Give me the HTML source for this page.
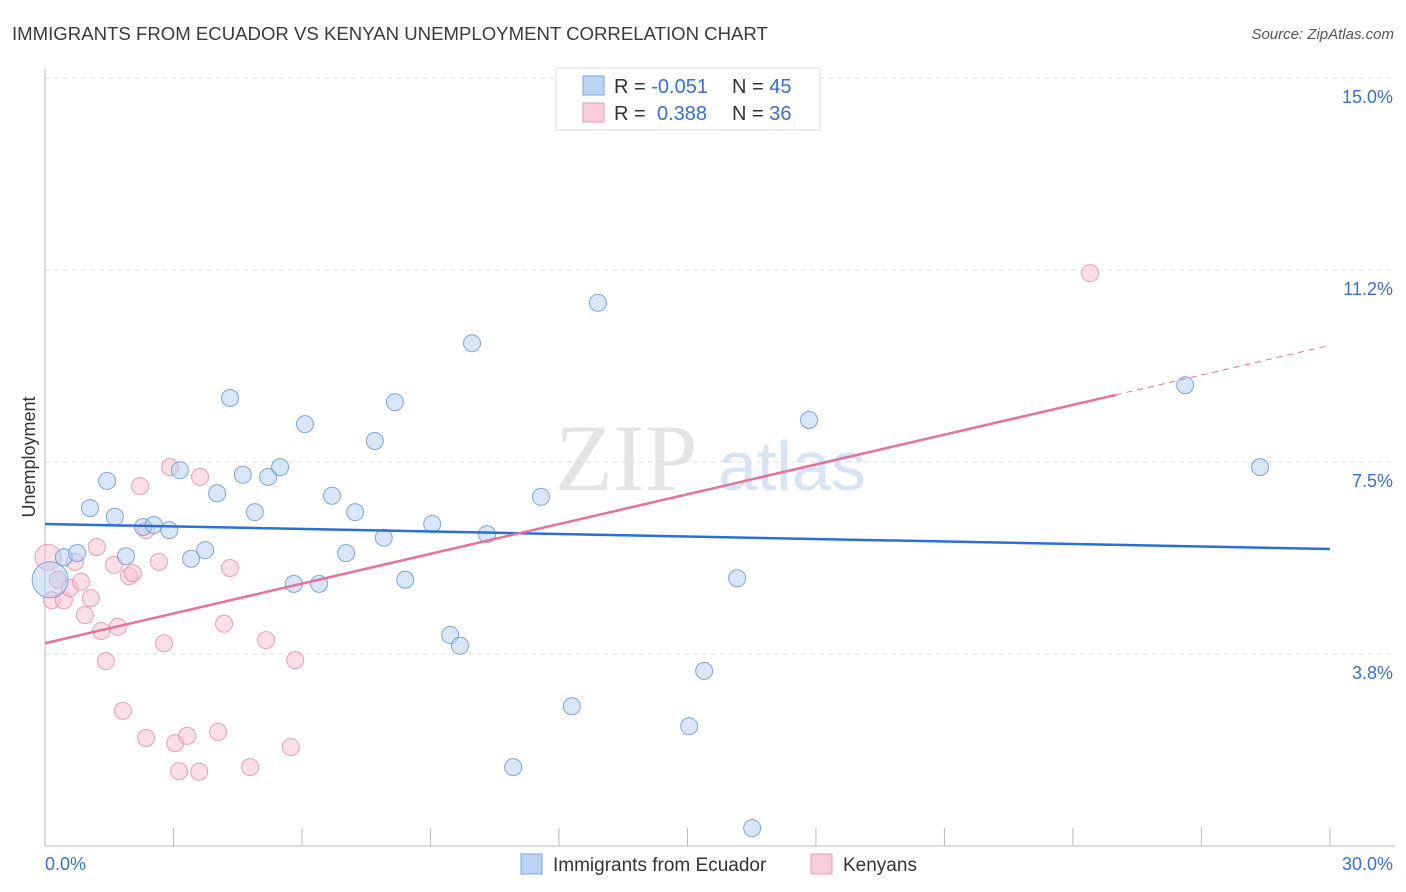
<!DOCTYPE html>
<html><head><meta charset="utf-8"><style>
body{margin:0;background:#fff;font-family:"Liberation Sans",sans-serif}
#c{position:absolute;left:0;top:0}
</style></head><body>
<svg id="c" width="1406" height="892" xmlns="http://www.w3.org/2000/svg">
<text x="12" y="40" font-size="18.6" fill="#3a3a3a">IMMIGRANTS FROM ECUADOR VS KENYAN UNEMPLOYMENT CORRELATION CHART</text>
<text x="1394" y="39" font-size="15" fill="#555" font-style="italic" text-anchor="end">Source: ZipAtlas.com</text>
<text x="35" y="457" font-size="18" fill="#333" text-anchor="middle" transform="rotate(-90 35 457)">Unemployment</text>
<g><text x="555" y="490" font-size="95" fill="#e4e4e4" font-family="Liberation Serif,serif">ZIP</text><text x="718" y="490" font-size="70" fill="#d6e4f5">atlas</text></g>
<g id="grid"></g><g id="axes"></g><g id="pts"></g><g id="lines"></g>
<g>
<rect x="556" y="68" width="264" height="62" fill="#fff" stroke="#ddd"/>
<rect x="583" y="76" width="21" height="19" fill="#bcd4f4" stroke="#7aa5e0"/>
<rect x="583" y="103" width="21" height="19" fill="#f9ccd9" stroke="#ec9ab5"/>
<text x="614" y="93" font-size="20" fill="#333">R = <tspan fill="#3670d0">-0.051</tspan><tspan x="732">N = </tspan><tspan fill="#3670d0">45</tspan></text>
<text x="614" y="120" font-size="20" fill="#333">R = <tspan x="657" fill="#3670d0">0.388</tspan><tspan x="732">N = </tspan><tspan fill="#3670d0">36</tspan></text>
</g>
<g>
<rect x="521" y="854" width="21" height="20" fill="#bcd4f4" stroke="#7aa5e0"/>
<text x="553" y="871" font-size="19" fill="#333">Immigrants from Ecuador</text>
<rect x="811" y="854" width="21" height="20" fill="#f9ccd9" stroke="#ec9ab5"/>
<text x="843" y="871" font-size="19" fill="#333">Kenyans</text>
</g>
</svg>
<script>
const ns="http://www.w3.org/2000/svg";
const yTicks=[15.0,11.25,7.5,3.75];
const yTickLabels=["15.0%","11.2%","7.5%","3.8%"];
const xTickLabels=["0.0%","30.0%"];
const ecuadorX=[0.12,0.44,0.75,1.05,1.45,1.63,1.89,2.29,2.54,2.90,3.15,3.41,3.74,4.02,4.32,4.62,4.90,5.21,5.49,5.81,6.07,6.40,6.70,7.03,7.24,7.70,7.91,8.17,8.41,9.04,9.46,9.69,9.97,10.32,10.93,11.58,12.30,12.91,15.04,15.39,16.16,16.51,17.84,26.62,28.37];
const ecuadorY=[5.20,5.64,5.72,6.60,7.13,6.43,5.66,6.23,6.27,6.17,7.34,5.61,5.78,6.89,8.75,7.25,6.52,7.21,7.40,5.12,8.24,5.12,6.84,5.72,6.52,7.91,6.02,8.67,5.20,6.29,4.12,3.91,9.82,6.09,1.54,6.82,2.73,10.61,2.34,3.42,5.23,0.35,8.32,9.00,7.40];
const kenyaX=[0.07,0.16,0.30,0.44,0.58,0.70,0.84,0.93,1.07,1.21,1.31,1.42,1.61,1.70,1.82,1.96,2.05,2.22,2.36,2.36,2.66,2.78,2.92,3.04,3.13,3.32,3.60,3.62,4.04,4.18,4.32,4.79,5.16,5.74,5.84,24.40];
const kenyaY=[5.64,4.80,5.20,4.80,5.04,5.55,5.16,4.51,4.84,5.84,4.20,3.61,5.49,4.28,2.64,5.27,5.33,7.03,2.11,6.17,5.55,3.96,7.40,2.01,1.46,2.15,1.45,7.21,2.23,4.34,5.43,1.54,4.02,1.93,3.63,11.19];
const ecuadorTrend=[6.29,5.80];
const kenyaTrend=[3.96,9.78];
const sx=v=>45+v*42.83, sy=v=>78+(15-v)*51.2;
function mk(t,a,p){const e=document.createElementNS(ns,t);for(const k in a)e.setAttribute(k,a[k]);p.appendChild(e);return e;}
const grid=document.getElementById('grid'),axes=document.getElementById('axes'),pts=document.getElementById('pts'),lines=document.getElementById('lines');
yTicks.forEach((v,i)=>{
 const l=mk('line',{x1:45,x2:1395,y1:sy(v),y2:sy(v),stroke:'#ddd','stroke-dasharray':'5,4'},grid);
 
 
 const t=mk('text',{x:1393,y:sy(v)+25,'font-size':18,fill:'#3670d0','text-anchor':'end'},axes);
 t.textContent=yTickLabels[i];
 
 
});
let a=mk('line',{x1:45,x2:45,y1:68,y2:846,stroke:'#bbb'},axes);


a=mk('line',{x1:45,x2:1395,y1:846,y2:846,stroke:'#bbb'},axes);


for(let i=1;i<=10;i++){const t=mk('line',{x1:sx(i*3),x2:sx(i*3),y1:828,y2:846,stroke:'#bbb'},axes);
 
 }
[[0,45,'start'],[30,1393,'end']].forEach((d,i)=>{const t=mk('text',{x:d[1],y:870,'font-size':18,fill:'#3670d0','text-anchor':d[2]},axes);t.textContent=xTickLabels[i];
 
 });
function dots(X,Y,fill,stroke,name){X.forEach((x,i)=>{const r=(i===0&&name==='ecuador-point')?18:(i===0?13:8.5);
 const c=mk('circle',{cx:sx(x),cy:sy(Y[i]),r:r,fill:fill,'fill-opacity':0.5,stroke:stroke,'stroke-opacity':0.8,'stroke-width':1},pts);
 
 });}
dots(kenyaX,kenyaY,'#f6bfd0','#e88aa8','kenya-point');
dots(ecuadorX,ecuadorY,'#b3cdf2','#5f93dc','ecuador-point');
let l=mk('line',{x1:sx(0),y1:sy(ecuadorTrend[0]),x2:sx(30),y2:sy(ecuadorTrend[1]),stroke:'#2a6fd4','stroke-width':2.5},lines);


const kAt=x=>kenyaTrend[0]+(kenyaTrend[1]-kenyaTrend[0])*x/30;
l=mk('line',{x1:sx(0),y1:sy(kAt(0)),x2:sx(25),y2:sy(kAt(25)),stroke:'#e8709a','stroke-width':2.5},lines);


l=mk('line',{x1:sx(25),y1:sy(kAt(25)),x2:sx(30),y2:sy(kAt(30)),stroke:'#e8709a','stroke-width':1,'stroke-dasharray':'6,5'},lines);


</script>
</body></html>
